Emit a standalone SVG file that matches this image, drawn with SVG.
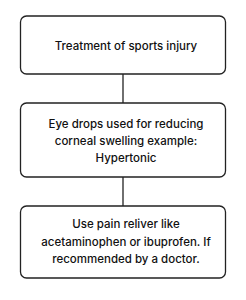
<svg xmlns="http://www.w3.org/2000/svg" width="246" height="300" viewBox="0 0 246 300">
<style>
.box{fill:#fff;stroke:#222;stroke-width:1.3}
.t{font-family:Inter,"Liberation Sans",sans-serif;font-size:11.5px;font-weight:500;fill:#111;text-anchor:middle}
.c{stroke:#222;stroke-width:1.3;fill:none}
</style>
<rect width="246" height="300" fill="#fff"/>
<g id="connectors">
<line class="c" x1="123" y1="74" x2="123" y2="103"/>
<line class="c" x1="123" y1="177" x2="123" y2="206"/>
</g>
<g id="n1">
<rect class="box" x="20.5" y="16" width="205" height="58" rx="6"/>
<text class="t" x="126" y="50">Treatment of sports injury</text>
</g>
<g id="n2">
<rect class="box" x="20.5" y="103" width="205" height="74" rx="6"/>
<text class="t" x="126" y="128">Eye drops used for reducing</text>
<text class="t" x="126" y="145">corneal swelling example:</text>
<text class="t" x="126" y="162">Hypertonic</text>
</g>
<g id="n3">
<rect class="box" x="20.5" y="206" width="205" height="72" rx="6"/>
<text class="t" x="126" y="228">Use pain reliver like</text>
<text class="t" x="126" y="246">acetaminophen or ibuprofen. If</text>
<text class="t" x="126" y="263">recommended by a doctor.</text>
</g>
</svg>
